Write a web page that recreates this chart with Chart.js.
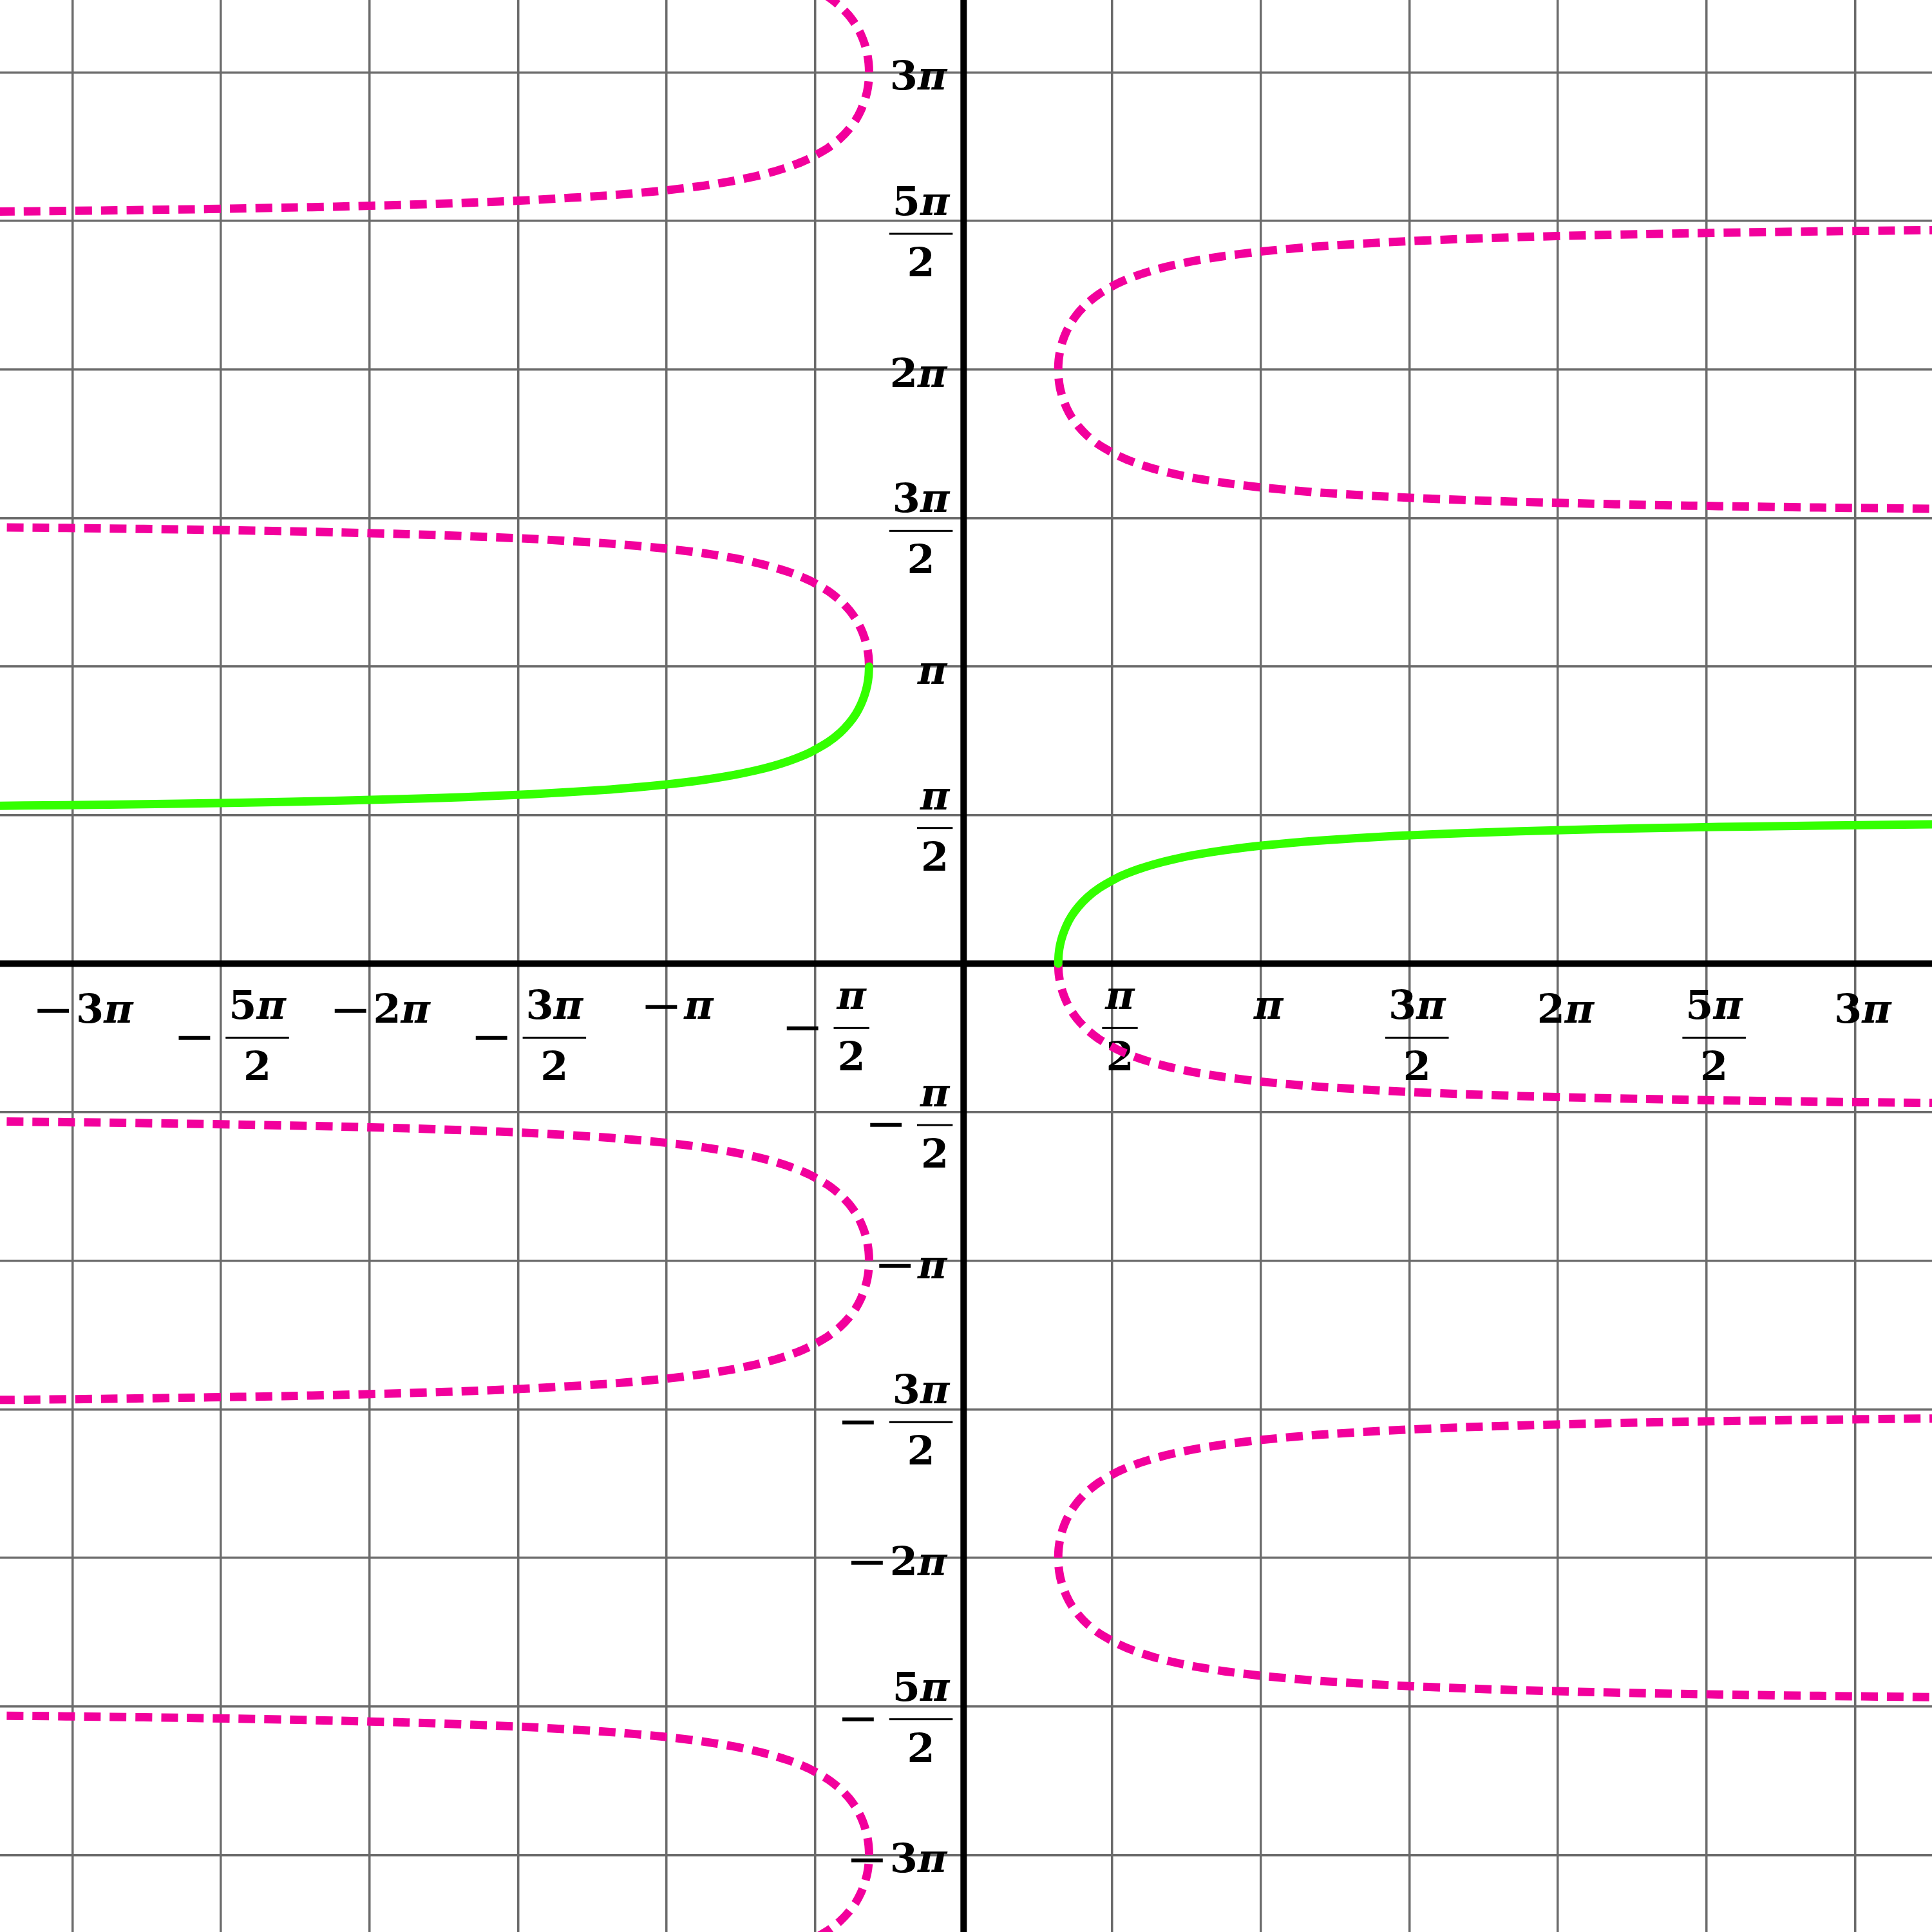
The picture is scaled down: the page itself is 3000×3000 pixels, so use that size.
<!DOCTYPE html>
<html lang="en">
<head>
    <meta charset="UTF-8">
    <title>x = sec(y)</title>
    <style>
        body {
            margin: 0;
            padding: 0;
            background-color: #fff;
        }
        #wrap {
            width: 3000px;
            height: 3000px;
        }
    </style>
    <script src="https://cdn.jsdelivr.net/npm/chart.js"></script>
</head>
<body>
    <div id="wrap">
        <canvas id="plot" width="3000" height="3000"></canvas>
    </div>

    <script>
        // visible window (radians)
        const xMin = -10.19, xMax = 10.24;
        const yMin = -10.24, yMax = 10.19;

        // grid / ticks every pi/2
        const tickSteps = [-6, -5, -4, -3, -2, -1, 0, 1, 2, 3, 4, 5, 6];
        const tickLabels = ['−3π', '−5π/2', '−2π', '−3π/2', '−π', '−π/2', '', 'π/2', 'π', '3π/2', '2π', '5π/2', '3π'];

        // one arm of a branch: angle away from the branch centre, and |x| reached
        const armAngle = [0, 0.1, 0.2, 0.3, 0.4, 0.5, 0.6, 0.7, 0.8, 0.9, 0.95, 1.0, 1.05, 1.1, 1.15,
                          1.2, 1.25, 1.3, 1.35, 1.38, 1.4, 1.42, 1.43, 1.44, 1.45, 1.46, 1.47, 1.48];
        const armReach = [1, 1.005, 1.020, 1.047, 1.086, 1.139, 1.212, 1.307, 1.435, 1.609, 1.719, 1.851, 2.010, 2.205, 2.448,
                          2.760, 3.171, 3.738, 4.566, 5.273, 5.883, 6.657, 7.126, 7.667, 8.299, 9.044, 9.938, 11.029];

        // branch centres (multiples of pi) and which side of the y-axis they open to
        const branchCentres = [-3, -2, -1, 0, 1, 2, 3];
        const branchSides = [-1, 1, -1, 1, -1, 1, -1];

        const GREEN = '#33ff00';
        const PINK = '#f2009c';

        function arm(k, side, dir) {
            return armAngle.map((t, i) => ({ x: side * armReach[i], y: k * Math.PI + dir * t }));
        }

        const datasets = [];
        branchCentres.forEach((k, i) => {
            const side = branchSides[i];
            if (k === 0) {
                datasets.push({ kind: 'main', data: arm(k, side, 1) });
                datasets.push({ kind: 'other', data: arm(k, side, -1) });
            } else if (k === 1) {
                datasets.push({ kind: 'main', data: arm(k, side, -1) });
                datasets.push({ kind: 'other', data: arm(k, side, 1) });
            } else {
                datasets.push({ kind: 'other', data: arm(k, side, -1).reverse().concat(arm(k, side, 1).slice(1)) });
            }
        });

        const chartData = datasets.map(d => ({
            data: d.data,
            showLine: true,
            pointRadius: 0,
            borderWidth: 13,
            tension: 0.2,
            borderColor: d.kind === 'main' ? GREEN : PINK,
            borderDash: d.kind === 'main' ? [] : [26, 14],
            borderCapStyle: d.kind === 'main' ? 'round' : 'butt',
            borderJoinStyle: 'round',
            order: d.kind === 'main' ? 0 : 1
        }));

        // label fonts
        const FS = 62;
        const upright = 'bold ' + FS + 'px "DejaVu Serif"';
        const slanted = 'bold italic ' + FS + 'px "DejaVu Serif"';
        const minusFont = '78px "DejaVu Serif"';

        function termWidth(ctx, str) {
            let w = 0;
            for (const ch of str) {
                ctx.font = ch === 'π' ? slanted : upright;
                w += ctx.measureText(ch).width;
            }
            return w;
        }

        function drawTerm(ctx, str, left, base) {
            for (const ch of str) {
                ctx.font = ch === 'π' ? slanted : upright;
                ctx.fillText(ch, left, base);
                left += ctx.measureText(ch).width;
            }
        }

        function drawMinus(ctx, left, midY) {
            ctx.font = minusFont;
            const m = ctx.measureText('−');
            const base = midY + (m.actualBoundingBoxAscent - m.actualBoundingBoxDescent) / 2;
            ctx.fillText('−', left + m.actualBoundingBoxLeft, base);
        }

        function parseLabel(ctx, text) {
            const neg = text.startsWith('−');
            const body = neg ? text.slice(1) : text;
            const parts = body.split('/');
            const num = parts[0], den = parts[1] || '';
            const numW = termWidth(ctx, num);
            const denW = den ? termWidth(ctx, den) : 0;
            const bodyW = den ? Math.max(numW, denW) + 10 : numW;
            ctx.font = minusFont;
            const mm = ctx.measureText('−');
            const minusW = mm.actualBoundingBoxLeft + mm.actualBoundingBoxRight;
            const signW = neg ? minusW + (den ? 23 : 10) : 0;
            const tall = /[0-9]/.test(num);
            return { neg, num, den, numW, denW, bodyW, signW, tall, width: signW + bodyW };
        }

        // draws one label with its left edge at `left`
        function drawLabel(ctx, L, left, numBase, bar, plainBase) {
            let x = left;
            if (L.neg) {
                drawMinus(ctx, x, L.den ? bar : plainBase - 19);
                x += L.signW;
            }
            if (L.den) {
                ctx.fillRect(x, bar - 1.5, L.bodyW, 3);
                drawTerm(ctx, L.num, x + (L.bodyW - L.numW) / 2, numBase);
                drawTerm(ctx, L.den, x + (L.bodyW - L.denW) / 2, bar + 66);
            } else {
                drawTerm(ctx, L.num, x, plainBase);
            }
        }

        const piAxes = {
            id: 'piAxes',
            beforeDatasetsDraw(chart) {
                const { ctx, chartArea: a, scales } = chart;
                const x0 = scales.x.getPixelForValue(0);
                const y0 = scales.y.getPixelForValue(0);
                ctx.save();
                ctx.fillStyle = '#000';
                ctx.fillRect(a.left, y0 - 5, a.right - a.left, 10);
                ctx.fillRect(x0 - 5, a.top, 10, a.bottom - a.top);
                ctx.textBaseline = 'alphabetic';
                ctx.textAlign = 'left';

                tickSteps.forEach((k, i) => {
                    const text = tickLabels[i];
                    if (!text) return;
                    const v = k * Math.PI / 2;

                    // along the x axis
                    const px = scales.x.getPixelForValue(v);
                    const Lx = parseLabel(ctx, text);
                    const cx = px + (k < 0 ? 20 : 12);
                    const barX = y0 + 40 + (Lx.tall ? 46 : 31) + 29;
                    drawLabel(ctx, Lx, cx - Lx.width / 2, barX - 29, barX, y0 + (Lx.tall ? 92 : 86));

                    // along the y axis
                    const py = scales.y.getPixelForValue(v);
                    const Ly = parseLabel(ctx, text);
                    const right = x0 - (Ly.den ? 17 : 26);
                    const barY = py + 20;
                    drawLabel(ctx, Ly, right - Ly.width, barY - 29, barY, py + 27);
                });
                ctx.restore();
            }
        };

        function piTicks(scale) {
            scale.ticks = tickSteps.map(k => ({ value: k * Math.PI / 2 }));
        }

        const gridOpts = { color: '#6b6b6b', lineWidth: 3.5, drawTicks: false };

        new Chart(document.getElementById('plot').getContext('2d'), {
            type: 'scatter',
            data: { datasets: chartData },
            options: {
                responsive: false,
                animation: false,
                devicePixelRatio: 1,
                layout: { padding: 0 },
                plugins: { legend: { display: false }, tooltip: { enabled: false } },
                scales: {
                    x: {
                        type: 'linear', min: xMin, max: xMax,
                        afterBuildTicks: piTicks,
                        ticks: { display: false },
                        grid: gridOpts,
                        border: { display: false }
                    },
                    y: {
                        type: 'linear', min: yMin, max: yMax,
                        afterBuildTicks: piTicks,
                        ticks: { display: false },
                        grid: gridOpts,
                        border: { display: false }
                    }
                }
            },
            plugins: [piAxes]
        });
    </script>
</body>
</html>
